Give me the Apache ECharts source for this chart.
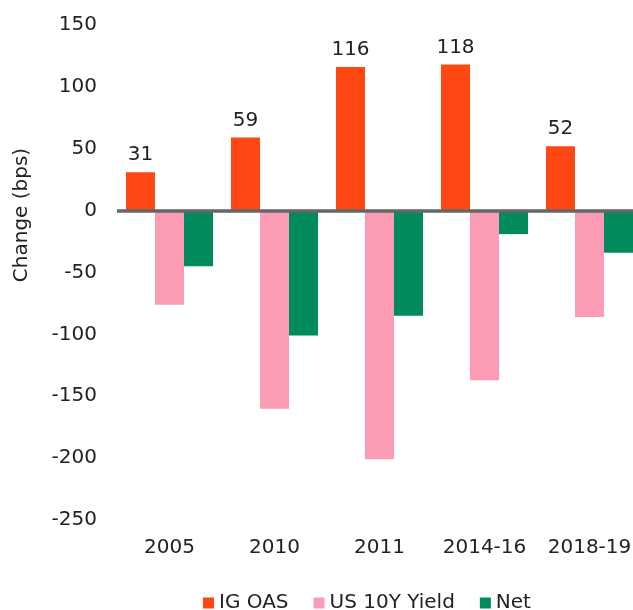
<!DOCTYPE html>
<html>
<head>
<meta charset="utf-8">
<script src="https://cdn.jsdelivr.net/npm/echarts@6/dist/echarts.min.js"></script>
<style>
    html, body { margin: 0; padding: 0; background: #fff; overflow: hidden; }
    /* 图表比窗口宽一点，最后一组在右边被截掉 */
    #echart_main { width: 642px; height: 610px; }
</style>
</head>
<body>
<div id="echart_main"></div>
<script>
// categories and values
var categories = ['2005', '2010', '2011', '2014-16', '2018-19'];
var igOas = [31, 59, 116, 118, 52];
var us10y = [-76, -160, -201, -137, -86];
var net = [-45, -101, -85, -19, -34];
var yTicks = { min: -250, max: 150, interval: 50 };

var fontName = 'DejaVu Sans';
var fontSize = 20;

function drawChart() {
    var myChart = echarts.init(document.getElementById('echart_main'));
    var option = {
        animation: false,
        textStyle: { fontFamily: fontName },
        legend: {
            left: 198,
            top: 588,
            itemWidth: 11,
            itemHeight: 11,
            itemGap: 25,
            icon: 'rect',
            textStyle: { color: '#222', fontSize: fontSize, fontFamily: fontName },
            data: ['IG OAS', 'US 10Y Yield', 'Net']
        },
        grid: {
            left: 117,
            right: 0,
            top: 25,
            bottom: 90
        },
        graphic: [{
            type: 'text',
            x: 22,
            y: 215,
            rotation: Math.PI / 2,
            style: {
                text: 'Change (bps)',
                fill: '#222',
                font: fontSize + 'px ' + fontName,
                align: 'center',
                verticalAlign: 'middle'
            }
        }],
        xAxis: {
            type: 'category',
            data: categories,
            axisLine: { show: false },
            axisTick: { show: false },
            axisLabel: { color: '#222', fontSize: fontSize, margin: 18, interval: 0 }
        },
        yAxis: {
            type: 'value',
            min: yTicks.min,
            max: yTicks.max,
            interval: yTicks.interval,
            axisLine: { show: false },
            axisTick: { show: false },
            splitLine: { show: false },
            axisLabel: { color: '#222', fontSize: fontSize, margin: 20 }
        },
        series: [
            {
                name: 'IG OAS',
                type: 'bar',
                data: igOas,
                barWidth: 29,
                barGap: '0%',
                itemStyle: { color: '#FF4713' },
                label: { show: true, position: 'top', distance: 7, color: '#222', fontSize: fontSize },
                markLine: {
                    silent: true,
                    symbol: ['none', 'none'],
                    label: { show: false },
                    lineStyle: { color: '#666', width: 3.5, type: 'solid' },
                    data: [{ yAxis: 0 }]
                }
            },
            {
                name: 'US 10Y Yield',
                type: 'bar',
                data: us10y,
                barWidth: 29,
                barGap: '0%',
                itemStyle: { color: '#FC9BB4' }
            },
            {
                name: 'Net',
                type: 'bar',
                data: net,
                barWidth: 29,
                barGap: '0%',
                itemStyle: { color: '#008A5E' }
            }
        ]
    };
    myChart.setOption(option);
}

drawChart();
</script>
</body>
</html>
